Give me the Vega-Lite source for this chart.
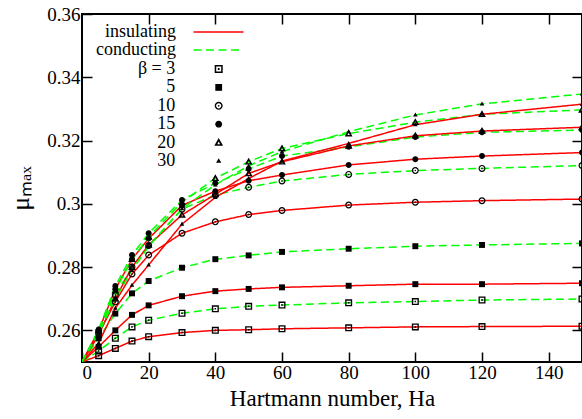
{
  "$schema": "https://vega.github.io/schema/vega-lite/v6.json",
  "width": 500,
  "height": 348,
  "autosize": {"type": "none"},
  "padding": {"left": 82, "top": 14, "right": 0, "bottom": 57},
  "background": "white",
  "datasets": {
    "rows": [
      {"Ha":0,"mu":0.2500,"beta":"3","type":"insulating"},{"Ha":5,"mu":0.2520,"beta":"3","type":"insulating"},{"Ha":10,"mu":0.2543,"beta":"3","type":"insulating"},{"Ha":15,"mu":0.2566,"beta":"3","type":"insulating"},{"Ha":20,"mu":0.2580,"beta":"3","type":"insulating"},{"Ha":30,"mu":0.2593,"beta":"3","type":"insulating"},{"Ha":40,"mu":0.2600,"beta":"3","type":"insulating"},{"Ha":50,"mu":0.2602,"beta":"3","type":"insulating"},{"Ha":60,"mu":0.2605,"beta":"3","type":"insulating"},{"Ha":80,"mu":0.2608,"beta":"3","type":"insulating"},{"Ha":100,"mu":0.2611,"beta":"3","type":"insulating"},{"Ha":120,"mu":0.2612,"beta":"3","type":"insulating"},{"Ha":150,"mu":0.2613,"beta":"3","type":"insulating"},
      {"Ha":0,"mu":0.2500,"beta":"3","type":"conducting"},{"Ha":5,"mu":0.2535,"beta":"3","type":"conducting"},{"Ha":10,"mu":0.2575,"beta":"3","type":"conducting"},{"Ha":15,"mu":0.2611,"beta":"3","type":"conducting"},{"Ha":20,"mu":0.2632,"beta":"3","type":"conducting"},{"Ha":30,"mu":0.2654,"beta":"3","type":"conducting"},{"Ha":40,"mu":0.2668,"beta":"3","type":"conducting"},{"Ha":50,"mu":0.2676,"beta":"3","type":"conducting"},{"Ha":60,"mu":0.2680,"beta":"3","type":"conducting"},{"Ha":80,"mu":0.2687,"beta":"3","type":"conducting"},{"Ha":100,"mu":0.2691,"beta":"3","type":"conducting"},{"Ha":120,"mu":0.2696,"beta":"3","type":"conducting"},{"Ha":150,"mu":0.2699,"beta":"3","type":"conducting"},
      {"Ha":0,"mu":0.2500,"beta":"5","type":"insulating"},{"Ha":5,"mu":0.2548,"beta":"5","type":"insulating"},{"Ha":10,"mu":0.2600,"beta":"5","type":"insulating"},{"Ha":15,"mu":0.2649,"beta":"5","type":"insulating"},{"Ha":20,"mu":0.2679,"beta":"5","type":"insulating"},{"Ha":30,"mu":0.2708,"beta":"5","type":"insulating"},{"Ha":40,"mu":0.2724,"beta":"5","type":"insulating"},{"Ha":50,"mu":0.2731,"beta":"5","type":"insulating"},{"Ha":60,"mu":0.2736,"beta":"5","type":"insulating"},{"Ha":80,"mu":0.2741,"beta":"5","type":"insulating"},{"Ha":100,"mu":0.2746,"beta":"5","type":"insulating"},{"Ha":120,"mu":0.2746,"beta":"5","type":"insulating"},{"Ha":150,"mu":0.2749,"beta":"5","type":"insulating"},
      {"Ha":0,"mu":0.2500,"beta":"5","type":"conducting"},{"Ha":5,"mu":0.2575,"beta":"5","type":"conducting"},{"Ha":10,"mu":0.2653,"beta":"5","type":"conducting"},{"Ha":15,"mu":0.2717,"beta":"5","type":"conducting"},{"Ha":20,"mu":0.2756,"beta":"5","type":"conducting"},{"Ha":30,"mu":0.2798,"beta":"5","type":"conducting"},{"Ha":40,"mu":0.2825,"beta":"5","type":"conducting"},{"Ha":50,"mu":0.2837,"beta":"5","type":"conducting"},{"Ha":60,"mu":0.2848,"beta":"5","type":"conducting"},{"Ha":80,"mu":0.2858,"beta":"5","type":"conducting"},{"Ha":100,"mu":0.2866,"beta":"5","type":"conducting"},{"Ha":120,"mu":0.2870,"beta":"5","type":"conducting"},{"Ha":150,"mu":0.2875,"beta":"5","type":"conducting"},
      {"Ha":0,"mu":0.2500,"beta":"10","type":"insulating"},{"Ha":5,"mu":0.2590,"beta":"10","type":"insulating"},{"Ha":10,"mu":0.2690,"beta":"10","type":"insulating"},{"Ha":15,"mu":0.2778,"beta":"10","type":"insulating"},{"Ha":20,"mu":0.2838,"beta":"10","type":"insulating"},{"Ha":30,"mu":0.2907,"beta":"10","type":"insulating"},{"Ha":40,"mu":0.2943,"beta":"10","type":"insulating"},{"Ha":50,"mu":0.2966,"beta":"10","type":"insulating"},{"Ha":60,"mu":0.2979,"beta":"10","type":"insulating"},{"Ha":80,"mu":0.2996,"beta":"10","type":"insulating"},{"Ha":100,"mu":0.3005,"beta":"10","type":"insulating"},{"Ha":120,"mu":0.3010,"beta":"10","type":"insulating"},{"Ha":150,"mu":0.3015,"beta":"10","type":"insulating"},
      {"Ha":0,"mu":0.2500,"beta":"10","type":"conducting"},{"Ha":5,"mu":0.2598,"beta":"10","type":"conducting"},{"Ha":10,"mu":0.2712,"beta":"10","type":"conducting"},{"Ha":15,"mu":0.2800,"beta":"10","type":"conducting"},{"Ha":20,"mu":0.2868,"beta":"10","type":"conducting"},{"Ha":30,"mu":0.2983,"beta":"10","type":"conducting"},{"Ha":40,"mu":0.3028,"beta":"10","type":"conducting"},{"Ha":50,"mu":0.3052,"beta":"10","type":"conducting"},{"Ha":60,"mu":0.3072,"beta":"10","type":"conducting"},{"Ha":80,"mu":0.3093,"beta":"10","type":"conducting"},{"Ha":100,"mu":0.3105,"beta":"10","type":"conducting"},{"Ha":120,"mu":0.3112,"beta":"10","type":"conducting"},{"Ha":150,"mu":0.3121,"beta":"10","type":"conducting"},
      {"Ha":0,"mu":0.2500,"beta":"15","type":"insulating"},{"Ha":5,"mu":0.2600,"beta":"15","type":"insulating"},{"Ha":10,"mu":0.2730,"beta":"15","type":"insulating"},{"Ha":15,"mu":0.2825,"beta":"15","type":"insulating"},{"Ha":20,"mu":0.2890,"beta":"15","type":"insulating"},{"Ha":30,"mu":0.2995,"beta":"15","type":"insulating"},{"Ha":40,"mu":0.3040,"beta":"15","type":"insulating"},{"Ha":50,"mu":0.3073,"beta":"15","type":"insulating"},{"Ha":60,"mu":0.3091,"beta":"15","type":"insulating"},{"Ha":80,"mu":0.3123,"beta":"15","type":"insulating"},{"Ha":100,"mu":0.3141,"beta":"15","type":"insulating"},{"Ha":120,"mu":0.3151,"beta":"15","type":"insulating"},{"Ha":150,"mu":0.3162,"beta":"15","type":"insulating"},
      {"Ha":0,"mu":0.2500,"beta":"15","type":"conducting"},{"Ha":5,"mu":0.2603,"beta":"15","type":"conducting"},{"Ha":10,"mu":0.2740,"beta":"15","type":"conducting"},{"Ha":15,"mu":0.2838,"beta":"15","type":"conducting"},{"Ha":20,"mu":0.2907,"beta":"15","type":"conducting"},{"Ha":30,"mu":0.3012,"beta":"15","type":"conducting"},{"Ha":40,"mu":0.3065,"beta":"15","type":"conducting"},{"Ha":50,"mu":0.3110,"beta":"15","type":"conducting"},{"Ha":60,"mu":0.3151,"beta":"15","type":"conducting"},{"Ha":80,"mu":0.3180,"beta":"15","type":"conducting"},{"Ha":100,"mu":0.3211,"beta":"15","type":"conducting"},{"Ha":120,"mu":0.3226,"beta":"15","type":"conducting"},{"Ha":150,"mu":0.3233,"beta":"15","type":"conducting"},
      {"Ha":0,"mu":0.2500,"beta":"20","type":"insulating"},{"Ha":5,"mu":0.2585,"beta":"20","type":"insulating"},{"Ha":10,"mu":0.2700,"beta":"20","type":"insulating"},{"Ha":15,"mu":0.2800,"beta":"20","type":"insulating"},{"Ha":20,"mu":0.2870,"beta":"20","type":"insulating"},{"Ha":30,"mu":0.2965,"beta":"20","type":"insulating"},{"Ha":40,"mu":0.3030,"beta":"20","type":"insulating"},{"Ha":50,"mu":0.3096,"beta":"20","type":"insulating"},{"Ha":60,"mu":0.3133,"beta":"20","type":"insulating"},{"Ha":80,"mu":0.3183,"beta":"20","type":"insulating"},{"Ha":100,"mu":0.3215,"beta":"20","type":"insulating"},{"Ha":120,"mu":0.3230,"beta":"20","type":"insulating"},{"Ha":150,"mu":0.3242,"beta":"20","type":"insulating"},
      {"Ha":0,"mu":0.2500,"beta":"20","type":"conducting"},{"Ha":5,"mu":0.2600,"beta":"20","type":"conducting"},{"Ha":10,"mu":0.2725,"beta":"20","type":"conducting"},{"Ha":15,"mu":0.2825,"beta":"20","type":"conducting"},{"Ha":20,"mu":0.2895,"beta":"20","type":"conducting"},{"Ha":30,"mu":0.3005,"beta":"20","type":"conducting"},{"Ha":40,"mu":0.3081,"beta":"20","type":"conducting"},{"Ha":50,"mu":0.3133,"beta":"20","type":"conducting"},{"Ha":60,"mu":0.3175,"beta":"20","type":"conducting"},{"Ha":80,"mu":0.3222,"beta":"20","type":"conducting"},{"Ha":100,"mu":0.3258,"beta":"20","type":"conducting"},{"Ha":120,"mu":0.3283,"beta":"20","type":"conducting"},{"Ha":150,"mu":0.3297,"beta":"20","type":"conducting"},
      {"Ha":0,"mu":0.2500,"beta":"30","type":"insulating"},{"Ha":5,"mu":0.2560,"beta":"30","type":"insulating"},{"Ha":10,"mu":0.2670,"beta":"30","type":"insulating"},{"Ha":15,"mu":0.2743,"beta":"30","type":"insulating"},{"Ha":20,"mu":0.2807,"beta":"30","type":"insulating"},{"Ha":30,"mu":0.2936,"beta":"30","type":"insulating"},{"Ha":40,"mu":0.3020,"beta":"30","type":"insulating"},{"Ha":50,"mu":0.3080,"beta":"30","type":"insulating"},{"Ha":60,"mu":0.3135,"beta":"30","type":"insulating"},{"Ha":80,"mu":0.3191,"beta":"30","type":"insulating"},{"Ha":100,"mu":0.3250,"beta":"30","type":"insulating"},{"Ha":120,"mu":0.3283,"beta":"30","type":"insulating"},{"Ha":150,"mu":0.3315,"beta":"30","type":"insulating"},
      {"Ha":0,"mu":0.2500,"beta":"30","type":"conducting"},{"Ha":5,"mu":0.2590,"beta":"30","type":"conducting"},{"Ha":10,"mu":0.2700,"beta":"30","type":"conducting"},{"Ha":15,"mu":0.2790,"beta":"30","type":"conducting"},{"Ha":20,"mu":0.2865,"beta":"30","type":"conducting"},{"Ha":30,"mu":0.2985,"beta":"30","type":"conducting"},{"Ha":40,"mu":0.3060,"beta":"30","type":"conducting"},{"Ha":50,"mu":0.3120,"beta":"30","type":"conducting"},{"Ha":60,"mu":0.3165,"beta":"30","type":"conducting"},{"Ha":80,"mu":0.3228,"beta":"30","type":"conducting"},{"Ha":100,"mu":0.3281,"beta":"30","type":"conducting"},{"Ha":120,"mu":0.3316,"beta":"30","type":"conducting"},{"Ha":150,"mu":0.3347,"beta":"30","type":"conducting"}
    ]
  },
  "data": {"name": "rows"},
  "layer": [
    {
      "mark": {"type": "line", "strokeWidth": 1.5, "clip": true},
      "encoding": {
        "x": {"field": "Ha", "type": "quantitative",
          "scale": {"domain": [0, 150], "nice": false, "zero": false},
          "axis": {"orient": "bottom", "values": [0, 20, 40, 60, 80, 100, 120, 140], "title": "Hartmann number, Ha", "titleFontSize": 23, "titlePadding": 5, "labelPadding": 11, "labelFontSize": 19, "labelFont": "Times New Roman", "titleFont": "Times New Roman", "labelFontWeight": "normal", "titleFontWeight": "normal"}},
        "y": {"field": "mu", "type": "quantitative",
          "scale": {"domain": [0.25, 0.36], "nice": false, "zero": false},
          "axis": {"orient": "left", "values": [0.26, 0.28, 0.3, 0.32, 0.34, 0.36], "format": "~g", "title": "μₘₐₓ", "titleFontSize": 26, "titlePadding": 13, "labelPadding": 12, "labelFontSize": 19, "labelFont": "Times New Roman", "titleFont": "Times New Roman", "labelFontWeight": "normal", "titleFontWeight": "normal"}},
        "stroke": {"field": "type", "type": "nominal",
          "scale": {"domain": ["insulating", "conducting"], "range": ["#ff0000", "#00ff00"]},
          "legend": {"orient": "none", "legendX": 0, "legendY": 9, "symbolType": "M-6,0H6", "symbolSize": 69.4, "symbolStrokeWidth": 1.5, "symbolOffset": 127.5, "labelOffset": -51.5, "labelFont": "Times New Roman"}},
        "strokeDash": {"field": "type", "type": "nominal",
          "scale": {"domain": ["insulating", "conducting"], "range": [[1, 0], [8, 4.5]]},
          "legend": {"orient": "none", "legendX": 0, "legendY": 9, "symbolType": "M-6,0H6", "symbolSize": 69.4, "symbolStrokeWidth": 1.5, "symbolOffset": 127.5, "labelOffset": -51.5, "labelFont": "Times New Roman"}},
        "detail": {"field": "beta", "type": "nominal"}
      }
    },
    {
      "transform": [{"filter": "datum.Ha > 0"}],
      "mark": {"type": "point", "filled": true, "color": "black", "opacity": 1, "size": 49, "strokeWidth": 0},
      "encoding": {
        "x": {"field": "Ha", "type": "quantitative",
          "axis": {"orient": "top", "values": [20, 40, 60, 80, 100, 120, 140], "labels": false, "title": null}},
        "y": {"field": "mu", "type": "quantitative",
          "axis": {"orient": "right", "values": [0.26, 0.28, 0.3, 0.32, 0.34], "labels": false, "title": null}},
        "shape": {"field": "beta", "type": "nominal",
          "scale": {"domain": ["3", "5", "10", "15", "20", "30"],
            "range": [
              "M-1,-1H1V1H-1Z M-0.62,-0.62V0.62H0.62V-0.62Z M-0.22,-0.22H0.22V0.22H-0.22Z",
              "M-0.85,-0.85H0.85V0.85H-0.85Z",
              "M1,0A1,1,0,1,1,-1,0A1,1,0,1,1,1,0Z M0.65,0A0.65,0.65,0,1,0,-0.65,0A0.65,0.65,0,1,0,0.65,0Z M0.22,0A0.22,0.22,0,1,1,-0.22,0A0.22,0.22,0,1,1,0.22,0Z",
              "M0.85,0A0.85,0.85,0,1,1,-0.85,0A0.85,0.85,0,1,1,0.85,0Z",
              "M0,-1.15L1.1,0.8L-1.1,0.8Z M0,-0.3L-0.35,0.42L0.35,0.42Z",
              "M0,-0.7L0.65,0.45L-0.65,0.45Z"
            ]},
          "legend": {"orient": "none", "legendX": 0, "legendY": 46, "symbolSize": 64, "symbolFillColor": "black", "symbolStrokeWidth": 0, "symbolOffset": 127.7, "labelOffset": -52.5, "labelFont": "Times New Roman", "rowPadding": 0.4,
            "labelExpr": "datum.label == '3' ? 'β = 3' : datum.label"}}
      }
    }
  ],
  "resolve": {"axis": {"x": "independent", "y": "independent"}},
  "config": {
    "font": "Times New Roman",
    "view": {"stroke": "black", "strokeWidth": 2},
    "style": {"guide-label": {"font": "Times New Roman"}, "guide-title": {"font": "Times New Roman"}},
    "legend": {"title": null, "padding": 0, "labelAlign": "right", "labelFontSize": 18, "labelColor": "black", "rowPadding": 0, "labelLimit": 200},
    "axis": {"domain": false, "grid": false, "ticks": true, "tickColor": "black", "tickWidth": 1.5, "tickSize": -10,
      "labelFont": "Times New Roman", "titleFont": "Times New Roman",
      "labelFontSize": 19, "labelColor": "black", "titleColor": "black", "titleFontWeight": "normal"}
  }
}
